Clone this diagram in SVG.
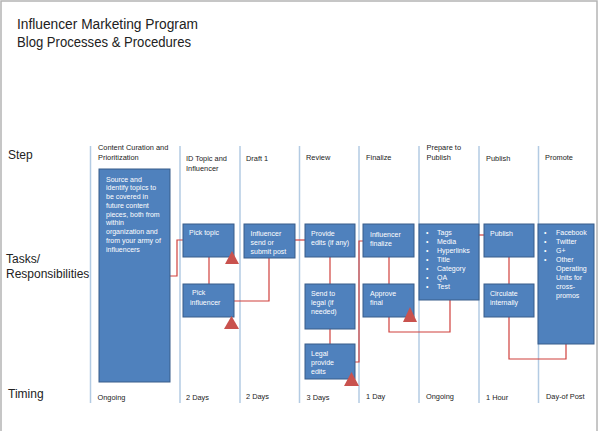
<svg xmlns="http://www.w3.org/2000/svg" width="600" height="431" viewBox="0 0 600 431">
<style>
text{font-family:"Liberation Sans",Arial,sans-serif;fill:#222}
.title{font-size:14px}
.row{font-size:12px}
.hdr{font-size:7.4px}
.tim{font-size:7.4px}
.box rect{fill:#4f81bd;stroke:#385d8a;stroke-width:1}
.box text{font-size:7px;fill:#fff}
.div{stroke:#b3cbe3;stroke-width:1.5}
.con path{fill:none;stroke:#d0403c;stroke-width:1.2}
.tri{fill:#c9524e}
</style>
<rect x="1" y="1" width="596" height="445" fill="#fff" stroke="#b4b4b4" stroke-width="1.5"/>
<g id="title">
<text class="title" x="17" y="29" textLength="181" lengthAdjust="spacingAndGlyphs">Influencer Marketing Program</text>
<text class="title" x="17" y="47" textLength="174" lengthAdjust="spacingAndGlyphs">Blog Processes &amp; Procedures</text>
</g>
<g id="row-labels">
<text class="row" x="8" y="159">Step</text>
<text class="row" x="6" y="263">Tasks/</text>
<text class="row" x="6" y="278">Responsibilities</text>
<text class="row" x="8" y="398">Timing</text>
</g>
<g id="dividers">
<line class="div" x1="90.5" y1="146" x2="90.5" y2="403"/>
<line class="div" x1="180" y1="146" x2="180" y2="403"/>
<line class="div" x1="240" y1="146" x2="240" y2="403"/>
<line class="div" x1="299.5" y1="146" x2="299.5" y2="403"/>
<line class="div" x1="359" y1="146" x2="359" y2="403"/>
<line class="div" x1="419" y1="146" x2="419" y2="403"/>
<line class="div" x1="479" y1="146" x2="479" y2="403"/>
<line class="div" x1="538.5" y1="146" x2="538.5" y2="403"/>
</g>
<g id="headers">
<text class="hdr" x="98" y="150">Content Curation and</text>
<text class="hdr" x="98" y="160">Prioritization</text>
<text class="hdr" x="186" y="161">ID Topic and</text>
<text class="hdr" x="186" y="171">Influencer</text>
<text class="hdr" x="246" y="161">Draft 1</text>
<text class="hdr" x="306" y="160">Review</text>
<text class="hdr" x="366" y="160">Finalize</text>
<text class="hdr" x="426.5" y="150">Prepare to</text>
<text class="hdr" x="426.5" y="160">Publish</text>
<text class="hdr" x="486" y="161">Publish</text>
<text class="hdr" x="545" y="160">Promote</text>
</g>
<g id="connectors" class="con">
<path d="M170,276 H177 V240 H183"/>
<path d="M209,257 V284"/>
<path d="M234,301 H269 V258"/>
<path d="M295,240 H305"/>
<path d="M330,257 V284"/>
<path d="M330,329 V344"/>
<path d="M355,362 H359 V241 H363"/>
<path d="M389,257 V284"/>
<path d="M389,317 V332 H450 V300"/>
<path d="M479,235 H484"/>
<path d="M509,257 V284"/>
<path d="M509,317 V359 H566 V344"/>
</g>
<g id="n-curation" class="box">
<rect x="99" y="169" width="71" height="213"/>
<text x="106" y="181.5">Source and</text>
<text x="106" y="190.3">identify topics to</text>
<text x="106" y="199">be covered in</text>
<text x="106" y="207.8">future content</text>
<text x="106" y="216.5">pieces, both from</text>
<text x="106" y="225.3">within</text>
<text x="106" y="234">organization and</text>
<text x="106" y="242.8">from your army of</text>
<text x="106" y="251.5">influencers</text>
</g>
<g id="n-pick-topic" class="box">
<rect x="183" y="224" width="51" height="33"/>
<text x="189" y="235">Pick topic</text>
</g>
<g id="n-pick-influencer" class="box">
<rect x="183" y="284" width="51" height="33"/>
<text x="192" y="295">Pick</text>
<text x="190" y="305">influencer</text>
</g>
<g id="n-influencer-send" class="box">
<rect x="244" y="224" width="51" height="34"/>
<text x="250.5" y="236">Influencer</text>
<text x="250.5" y="245">send or</text>
<text x="250.5" y="254">submit post</text>
</g>
<g id="n-provide-edits" class="box">
<rect x="305" y="224" width="50" height="33"/>
<text x="311" y="236">Provide</text>
<text x="311" y="245">edits (if any)</text>
</g>
<g id="n-send-legal" class="box">
<rect x="305" y="284" width="50" height="45"/>
<text x="311" y="296">Send to</text>
<text x="311" y="305">legal (if</text>
<text x="311" y="314">needed)</text>
</g>
<g id="n-legal-edits" class="box">
<rect x="305" y="344" width="50" height="35"/>
<text x="311" y="356">Legal</text>
<text x="311" y="365">provide</text>
<text x="311" y="374">edits</text>
</g>
<g id="n-influencer-finalize" class="box">
<rect x="363" y="224" width="51" height="33"/>
<text x="370" y="237">Influencer</text>
<text x="370" y="245.5">finalize</text>
</g>
<g id="n-approve-final" class="box">
<rect x="363" y="284" width="51" height="33"/>
<text x="370" y="295.5">Approve</text>
<text x="370" y="304.5">final</text>
</g>
<g id="n-prepare" class="box">
<rect x="419" y="224" width="60" height="76"/>
<text x="426" y="235">•</text><text x="437" y="235">Tags</text>
<text x="426" y="244">•</text><text x="437" y="244">Media</text>
<text x="426" y="253">•</text><text x="437" y="253">Hyperlinks</text>
<text x="426" y="262">•</text><text x="437" y="262">Title</text>
<text x="426" y="271">•</text><text x="437" y="271">Category</text>
<text x="426" y="280">•</text><text x="437" y="280">QA</text>
<text x="426" y="289">•</text><text x="437" y="289">Test</text>
</g>
<g id="n-publish" class="box">
<rect x="484" y="224" width="50" height="33"/>
<text x="490" y="236">Publish</text>
</g>
<g id="n-circulate" class="box">
<rect x="484" y="284" width="50" height="33"/>
<text x="490" y="295.5">Circulate</text>
<text x="490" y="304.5">internally</text>
</g>
<g id="n-promote" class="box">
<rect x="538" y="224" width="56" height="120"/>
<text x="544" y="235">•</text><text x="556" y="235">Facebook</text>
<text x="544" y="244">•</text><text x="556" y="244">Twitter</text>
<text x="544" y="253">•</text><text x="556" y="253">G+</text>
<text x="544" y="262">•</text><text x="556" y="262">Other</text>
<text x="556" y="271">Operating</text>
<text x="556" y="280">Units for</text>
<text x="556" y="289">cross-</text>
<text x="556" y="298">promos</text>
</g>
<g id="markers">
<polygon class="tri" points="225,264 239,264 232,251"/>
<polygon class="tri" points="224,329 239,329 231.5,316"/>
<polygon class="tri" points="344,386 359,386 351.5,372"/>
<polygon class="tri" points="403,322 417,322 410,307"/>
</g>
<g id="timing">
<text class="tim" x="97.5" y="399.5">Ongoing</text>
<text class="tim" x="186" y="399.5">2 Days</text>
<text class="tim" x="246" y="398.5">2 Days</text>
<text class="tim" x="306.5" y="399.5">3 Days</text>
<text class="tim" x="366" y="399">1 Day</text>
<text class="tim" x="426" y="399">Ongoing</text>
<text class="tim" x="486" y="400">1 Hour</text>
<text class="tim" x="546" y="399">Day-of Post</text>
</g>
</svg>
